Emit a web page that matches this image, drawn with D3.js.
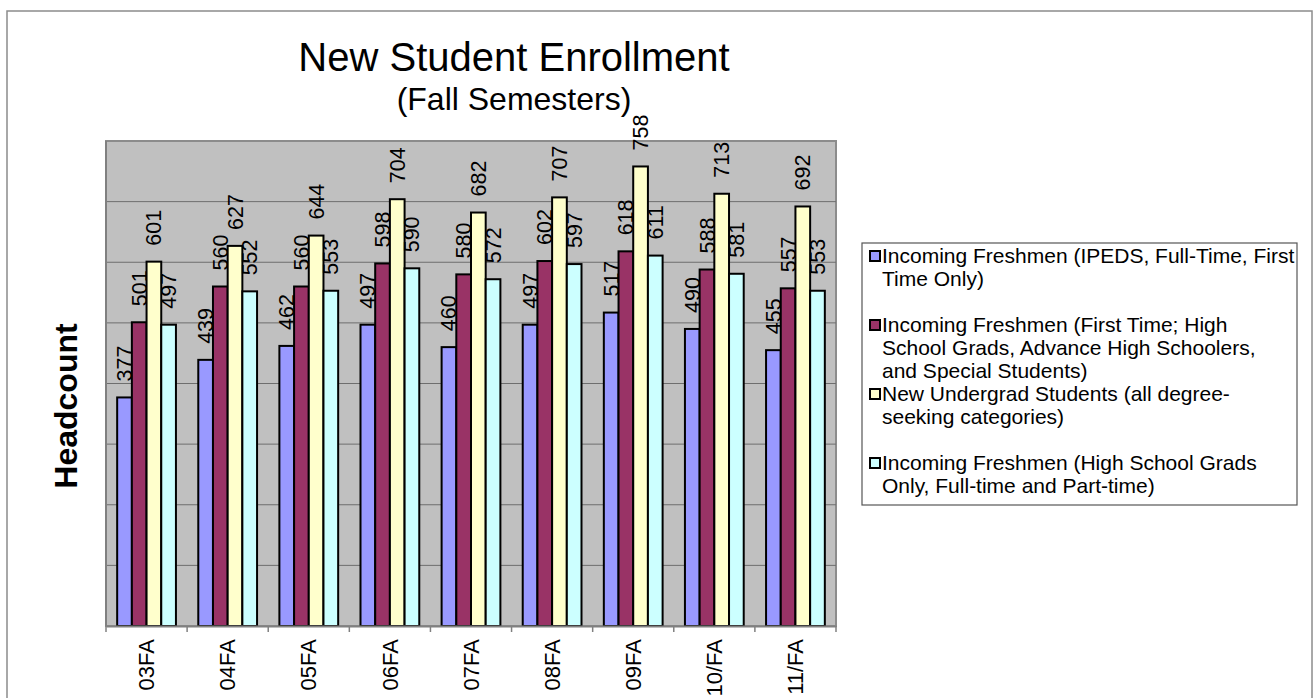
<!DOCTYPE html>
<html lang="en">
<head>
  <meta charset="UTF-8">
  <title>New Student Enrollment</title>
  <script src="https://cdn.jsdelivr.net/npm/d3@7.8.5/dist/d3.min.js"></script>
  <style>
    body { margin: 0; background: #fff; }
    svg { display: block; font-family: "Liberation Sans", Arial, sans-serif; }
  </style>
</head>
<body>
  <svg id="chart"></svg>
  <script>
    // Data
    const categories = ["03FA", "04FA", "05FA", "06FA", "07FA", "08FA", "09FA", "10/FA", "11/FA"];
    const seriesNames = [
      ["Incoming Freshmen (IPEDS, Full-Time, First", "Time Only)"],
      ["Incoming Freshmen (First Time; High", "School Grads, Advance High Schoolers,", "and Special Students)"],
      ["New Undergrad Students (all degree-", "seeking categories)"],
      ["Incoming Freshmen (High School Grads", "Only, Full-time and Part-time)"]
    ];
    const ipedsFreshmen = [377, 439, 462, 497, 460, 497, 517, 490, 455];
    const firstTimeFreshmen = [501, 560, 560, 598, 580, 602, 618, 588, 557];
    const newUndergrads = [601, 627, 644, 704, 682, 707, 758, 713, 692];
    const hsGradFreshmen = [497, 552, 553, 590, 572, 597, 611, 581, 553];
    const seriesValues = [ipedsFreshmen, firstTimeFreshmen, newUndergrads, hsGradFreshmen];
    const colors = ["#9999ff", "#993366", "#ffffcc", "#ccffff"];

    const width = 1313, height = 698;
    const svg = d3.select("#chart").attr("width", width).attr("height", height);

    // outer chart border
    svg.append("rect")
      .attr("x", 7).attr("y", 11).attr("width", 1305).attr("height", 720)
      .attr("fill", "#fff").attr("stroke", "#8c8c8c").attr("stroke-width", 1.5);

    const plot = { left: 106, right: 836, top: 141, bottom: 626 };

    const x = d3.scaleBand().domain(categories).range([plot.left, plot.right]);
    const xs = d3.scaleBand().domain(d3.range(seriesValues.length))
      .range([0, x.bandwidth()]).paddingOuter(0.76);
    const y = d3.scaleLinear().domain([0, 800]).range([plot.bottom, plot.top]);

    // plot area
    svg.append("rect")
      .attr("x", plot.left).attr("y", plot.top)
      .attr("width", plot.right - plot.left).attr("height", plot.bottom - plot.top)
      .attr("fill", "#c0c0c0").attr("stroke", "#8c8c8c").attr("stroke-width", 2);

    // gridlines
    svg.append("g")
      .selectAll("line")
      .data(y.ticks(8).filter(d => d > 0 && d < 800))
      .enter()
      .append("line")
      .attr("x1", plot.left).attr("x2", plot.right)
      .attr("y1", d => y(d)).attr("y2", d => y(d))
      .attr("stroke", "#6e6e6e").attr("stroke-width", 1);

    // bars
    const groups = svg.append("g")
      .selectAll("g")
      .data(seriesValues)
      .enter()
      .append("g")
      .attr("fill", (d, i) => colors[i]);

    groups.selectAll("rect")
      .data((vals, si) => vals.map((v, ci) => ({ v, ci, si })))
      .enter()
      .append("rect")
      .attr("x", d => x(categories[d.ci]) + xs(d.si))
      .attr("y", d => y(d.v))
      .attr("width", xs.bandwidth())
      .attr("height", d => y(0) - y(d.v))
      .attr("stroke", "#000").attr("stroke-width", 2);

    // data labels
    groups.selectAll("text")
      .data((vals, si) => vals.map((v, ci) => ({ v, ci, si })))
      .enter()
      .append("text")
      .attr("transform", d => `translate(${x(categories[d.ci]) + xs(d.si) + xs.bandwidth() / 2},${y(d.v) - 16}) rotate(-90)`)
      .attr("dy", "0.35em")
      .attr("fill", "#000")
      .attr("font-size", 21.5)
      .text(d => d.v);

    // axes
    const xAxis = svg.append("g")
      .attr("transform", `translate(0,${plot.bottom})`)
      .call(d3.axisBottom(x).tickSize(0).tickFormat(""));
    xAxis.select(".domain").attr("stroke", "#808080").attr("stroke-width", 2);
    xAxis.selectAll(".boundary")
      .data(d3.range(categories.length + 1))
      .enter()
      .append("line")
      .attr("x1", i => plot.left + i * x.step()).attr("x2", i => plot.left + i * x.step())
      .attr("y1", 0).attr("y2", 6)
      .attr("stroke", "#808080").attr("stroke-width", 1.5);

    svg.append("g")
      .selectAll("text")
      .data(categories)
      .enter()
      .append("text")
      .attr("transform", d => `translate(${x(d) + x.bandwidth() / 2},${plot.bottom + 13}) rotate(-90)`)
      .attr("dy", "0.35em")
      .attr("text-anchor", "end")
      .attr("font-size", 22)
      .text(d => d);

    svg.append("line")
      .attr("x1", plot.left).attr("x2", plot.left)
      .attr("y1", plot.top).attr("y2", plot.bottom)
      .attr("stroke", "#808080").attr("stroke-width", 2);

    // titles
    svg.append("text")
      .attr("x", 514).attr("y", 71)
      .attr("text-anchor", "middle").attr("font-size", 40)
      .text("New Student Enrollment");
    svg.append("text")
      .attr("x", 514).attr("y", 110)
      .attr("text-anchor", "middle").attr("font-size", 32)
      .text("(Fall Semesters)");
    svg.append("text")
      .attr("transform", "translate(66,406) rotate(-90)")
      .attr("dy", "0.35em")
      .attr("text-anchor", "middle").attr("font-size", 32).attr("font-weight", "bold")
      .text("Headcount");

    // legend
    const legend = svg.append("g");
    legend.append("rect")
      .attr("x", 862).attr("y", 243).attr("width", 435).attr("height", 262)
      .attr("fill", "#fff").attr("stroke", "#555").attr("stroke-width", 1.2);
    const lineH = 23;
    const items = legend.selectAll("g.item")
      .data(seriesNames)
      .enter()
      .append("g")
      .attr("transform", (d, i) => `translate(869,${263 + i * 3 * lineH})`);
    items.append("rect")
      .attr("x", 1).attr("y", -12).attr("width", 10).attr("height", 10)
      .attr("fill", (d, i) => colors[i]).attr("stroke", "#000").attr("stroke-width", 2);
    items.append("text")
      .attr("font-size", 21)
      .selectAll("tspan")
      .data(d => d)
      .enter()
      .append("tspan")
      .attr("x", 13)
      .attr("y", (d, j) => j * lineH)
      .text(d => d);
  </script>
</body>
</html>
